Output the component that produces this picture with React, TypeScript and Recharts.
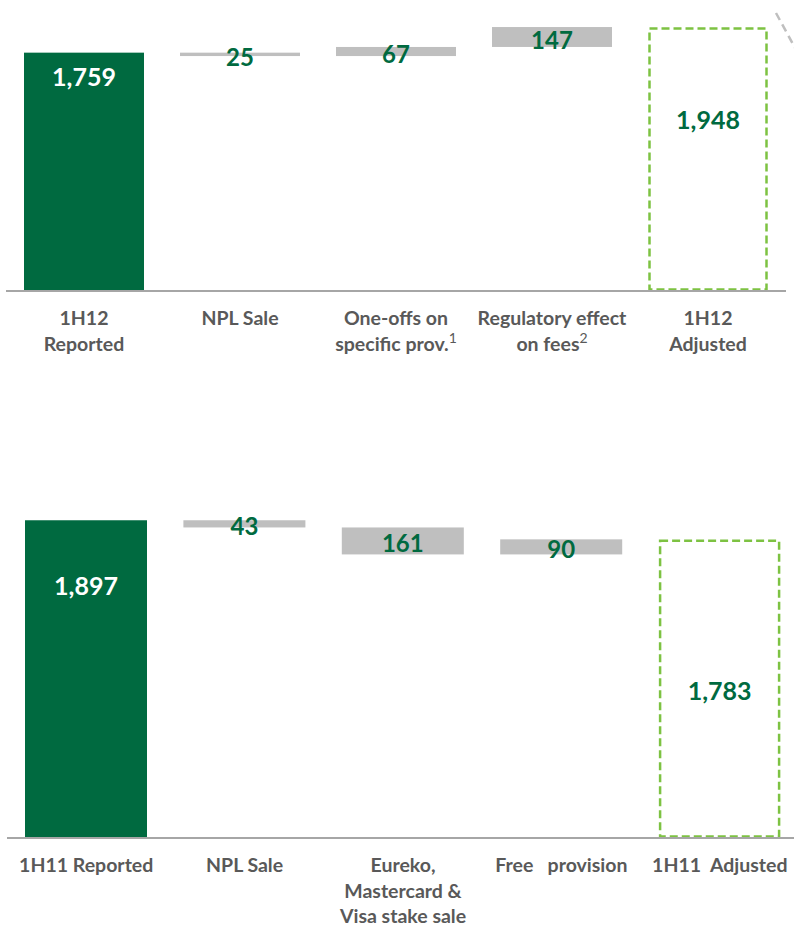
import React from 'react';
import { BarChart, Bar, XAxis, YAxis } from 'recharts';

// ---------- Data ----------
const TOP_CATEGORIES = ['1H12 Reported', 'NPL Sale', 'One-offs on specific prov.', 'Regulatory effect on fees', '1H12 Adjusted'];
const TOP_VALUES = [1759, -25, 67, 147, 1948];
const TOP_KINDS = ['total', 'delta', 'delta', 'delta', 'adjusted'];
const TOP_TICK_LINES = [['1H12', 'Reported'], ['NPL Sale'], ['One-offs on', 'specific prov.'], ['Regulatory effect', 'on fees'], ['1H12', 'Adjusted']];
const TOP_TICK_SUP = ['', '', '1', '2', ''];

const BOTTOM_CATEGORIES = ['1H11 Reported', 'NPL Sale', 'Eureko, Mastercard & Visa stake sale', 'Free provision', '1H11 Adjusted'];
const BOTTOM_VALUES = [1897, -43, -161, 90, 1783];
const BOTTOM_KINDS = ['total', 'delta', 'delta', 'delta', 'adjusted'];
const BOTTOM_TICK_LINES = [['1H11 Reported'], ['NPL Sale'], ['Eureko,', 'Mastercard &', 'Visa stake sale'], ['Free   provision'], ['1H11  Adjusted']];
const BOTTOM_TICK_SUP = ['', '', '', '', ''];

const Y_DOMAIN = [0, 2000];

// ---------- Styles ----------
const DARK_GREEN = '#006A40';
const GREY_BAR = '#BFBFBF';
const DASH_GREEN = '#7DC242';
const AXIS_GREY = '#A6A6A6';
const TICK_GREY = '#595959';
const FONT = 'Lato, "Open Sans", sans-serif';

type Row = { name: string; base: number; delta: number; value: number; kind: string; idx: number };

function buildRows(cats: string[], vals: number[], kinds: string[]): Row[] {
  let level = 0;
  return cats.map((c, i) => {
    const v = vals[i];
    const k = kinds[i];
    if (k !== 'delta') {
      level = v;
      return { name: c, base: 0, delta: v, value: Math.abs(v), kind: k, idx: i };
    }
    const base = Math.min(level, level + v);
    level += v;
    return { name: c, base, delta: Math.abs(v), value: Math.abs(v), kind: k, idx: i };
  });
}

const makeShape = (labelFrac: number[]) => (props: any) => {
  const { x, y, width, height, payload, index } = props;
  const row: Row = payload;
  const i = row?.idx ?? index;
  const label = (row?.value ?? 0).toLocaleString('en-US');
  if (row.kind === 'total') {
    return (
      <g>
        <rect x={x} y={y} width={width} height={height} fill={DARK_GREEN} />
        <text x={x + width / 2} y={y + height * labelFrac[i]} textAnchor="middle" dominantBaseline="central"
          fill="#FFFFFF" fontFamily={FONT} fontWeight={700} fontSize={25}>{label}</text>
      </g>
    );
  }
  if (row.kind === 'adjusted') {
    return (
      <g>
        <rect x={x + 1.5} y={y + 1.5} width={width - 3} height={height - 3} fill="none"
          stroke={DASH_GREEN} strokeWidth={2.5} strokeDasharray="8 4" />
        <text x={x + width / 2} y={y + height * labelFrac[i]} textAnchor="middle" dominantBaseline="central"
          fill={DARK_GREEN} fontFamily={FONT} fontWeight={700} fontSize={25}>{label}</text>
      </g>
    );
  }
  return (
    <g>
      <rect x={x} y={y} width={width} height={Math.max(height, 1)} fill={GREY_BAR} />
      <text x={x + width / 2} y={y + height / 2 + 2} textAnchor="middle" dominantBaseline="central"
        fill={DARK_GREEN} fontFamily={FONT} fontWeight={700} fontSize={24}>{label}</text>
    </g>
  );
};

const makeTick = (lines: string[][], sups: string[]) => (props: any) => {
  const { x, y, payload } = props;
  const i = payload.index;
  const ls = lines[i] || [];
  return (
    <g>
      {ls.map((l, j) => (
        <text key={j} x={x} y={y + 34 + j * 25.5} textAnchor="middle" fill={TICK_GREY}
          fontFamily={FONT} fontWeight={700} fontSize={19.5} style={{ whiteSpace: 'pre' }}>
          {l}
          {j === ls.length - 1 && sups[i] ? (
            <tspan fontWeight={400} fontSize={14} dy={-8}>{sups[i]}</tspan>
          ) : null}
        </text>
      ))}
    </g>
  );
};

type WProps = {
  rows: Row[];
  width: number;
  height: number;
  margin: any;
  barSize: number;
  xHeight: number;
  labelFrac: number[];
  lines: string[][];
  sups: string[];
};

function Waterfall({ rows, width, height, margin, barSize, xHeight, labelFrac, lines, sups }: WProps) {
  return (
    <BarChart width={width} height={height} data={rows} margin={margin} barCategoryGap={0}>
      <XAxis dataKey="name" interval={0} tickLine={false} tickSize={0} tickMargin={0} height={xHeight}
        axisLine={{ stroke: AXIS_GREY, strokeWidth: 2 }} tick={makeTick(lines, sups)} />
      <YAxis hide width={0} domain={Y_DOMAIN} allowDataOverflow />
      <Bar dataKey="base" stackId="a" fill="none" barSize={barSize} isAnimationActive={false} />
      <Bar dataKey="delta" stackId="a" barSize={barSize} shape={makeShape(labelFrac)} isAnimationActive={false} />
    </BarChart>
  );
}

export default function App() {
  const topRows = buildRows(TOP_CATEGORIES, TOP_VALUES, TOP_KINDS);
  const bottomRows = buildRows(BOTTOM_CATEGORIES, BOTTOM_VALUES, BOTTOM_KINDS);
  return (
    <div style={{ position: 'absolute', left: 0, top: 0, width: 794, height: 926, overflow: 'hidden', background: '#fff' }}>
      <div style={{ position: 'absolute', left: 0, top: 0 }}>
        <Waterfall rows={topRows} width={794} height={361} margin={{ top: 20, right: 8, left: 6, bottom: 0 }}
          barSize={120} xHeight={70} labelFrac={[0.097, 0.5, 0.5, 0.5, 0.35]}
          lines={TOP_TICK_LINES} sups={TOP_TICK_SUP} />
      </div>
      <svg style={{ position: 'absolute', left: 0, top: 0 }} width={794} height={80}>
        <line x1={776} y1={13} x2={800} y2={57} stroke={GREY_BAR} strokeWidth={2.5} strokeDasharray="8 5" />
      </svg>
      <div style={{ position: 'absolute', left: 0, top: 480 }}>
        <Waterfall rows={bottomRows} width={800} height={446} margin={{ top: 23, right: 1, left: 7, bottom: 0 }}
          barSize={122} xHeight={88} labelFrac={[0.204, 0.5, 0.5, 0.5, 0.505]}
          lines={BOTTOM_TICK_LINES} sups={BOTTOM_TICK_SUP} />
      </div>
    </div>
  );
}
